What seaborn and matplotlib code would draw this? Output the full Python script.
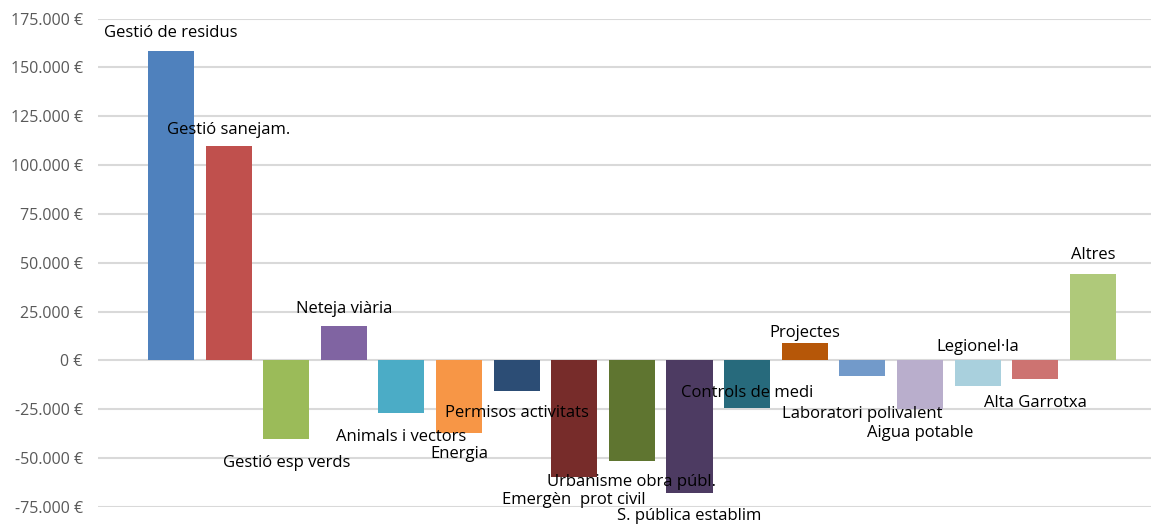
import matplotlib
matplotlib.use("Agg")
import matplotlib.pyplot as plt
from matplotlib.ticker import FuncFormatter, MultipleLocator
import seaborn as sns
import pandas as pd

categories = [
    "Gestió de residus", "Gestió sanejam.", "Gestió esp verds", "Neteja viària",
    "Animals i vectors", "Energia", "Permisos activitats", "Emergèn  prot civil",
    "Urbanisme obra públ.", "S. pública establim", "Controls de medi", "Projectes",
    "Laboratori polivalent", "Aigua potable", "Legionel·la", "Alta Garrotxa", "Altres",
]
values = [
    158500, 109600, -40000, 17800, -27000, -37000, -15700, -59700,
    -51500, -67700, -24400, 9000, -8000, -25000, -13200, -9700, 44200,
]
colors = [
    "#4F81BD", "#C0504D", "#9BBB59", "#8064A2", "#4BACC6", "#F79646", "#2C4D75",
    "#772C2A", "#5F7530", "#4D3B62", "#276A7C", "#B65708", "#729ACA", "#B9AECC",
    "#A9D0DD", "#CD7371", "#AFC97A",
]
# vertical placement of each category label (data units)
label_y = [
    167600, 117900, -52500, 26300, -39200, -47900, -26900, -71600,
    -62400, -79800, -16700, 14000, -27400, -37200, 6900, -21800, 53900,
]

sns.set_style("white")
plt.rcParams["font.family"] = ["Open Sans", "DejaVu Sans"]

df = pd.DataFrame({"cat": categories, "val": values})

fig = plt.figure(figsize=(11.51, 5.25), dpi=100)
ax = fig.add_axes([98 / 1151, 1 - 507 / 525, 1 - 98 / 1151, (507 - 18.5) / 525])

sns.barplot(data=df, x="cat", y="val", hue="cat", palette=colors, width=0.8,
            legend=False, ax=ax, saturation=1, linewidth=0, zorder=3)

ax.set_ylim(-75000, 175000)
ax.set_xlim(-1.267, 17.01)
ax.yaxis.set_major_locator(MultipleLocator(25000))
ax.yaxis.set_major_formatter(FuncFormatter(lambda v, p: f"{v:,.0f}".replace(",", ".") + " €"))
ax.grid(axis="y", color="#D9D9D9", linewidth=1.5, zorder=0)
ax.set_axisbelow(True)
for s in ax.spines.values():
    s.set_visible(False)
ax.set_xticks([])
ax.set_xlabel("")
ax.set_ylabel("")
ax.tick_params(axis="y", length=0, pad=11, labelsize=11.5, labelcolor="#595959")

for i, (name, ly) in enumerate(zip(categories, label_y)):
    ax.text(i, ly, name, ha="center", va="center", fontsize=12, color="#000000",
            zorder=5, clip_on=False)

fig.savefig("out.png", dpi=100)
